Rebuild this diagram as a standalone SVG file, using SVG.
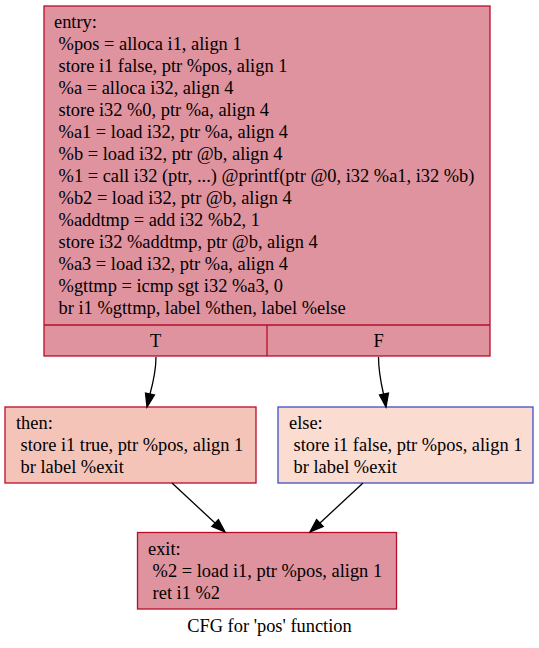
<svg xmlns="http://www.w3.org/2000/svg" width="539" height="648" viewBox="0 0 539 648">
  <style>
    text { font-family: "Liberation Serif", "Times New Roman", serif; font-size: 18.4px; fill: #000; }
    .hot { fill: #df939e; stroke: #b70d28; stroke-width: 1.3; }
    .warm { fill: #f5c4b9; stroke: #b70d28; stroke-width: 1.3; }
    .cool { fill: #fadcd1; stroke: #3d50c3; stroke-width: 1.3; }
    .sep { stroke: #b70d28; stroke-width: 1.3; fill: none; }
    .edge { stroke: #000; stroke-width: 1.3; fill: none; }
    .head { fill: #000; stroke: #000; stroke-width: 1.3; }
    .mid { text-anchor: middle; }
  </style>
  <rect width="539" height="648" fill="#fff"/>

  <g id="entry">
    <rect class="hot" x="44" y="6" width="446" height="350"/>
    <line class="sep" x1="44" y1="325" x2="490" y2="325"/>
    <line class="sep" x1="267" y1="325" x2="267" y2="356"/>
    <text x="54" y="28" xml:space="preserve">entry:</text>
    <text x="54" y="50" xml:space="preserve"> %pos = alloca i1, align 1</text>
    <text x="54" y="72" xml:space="preserve"> store i1 false, ptr %pos, align 1</text>
    <text x="54" y="94" xml:space="preserve"> %a = alloca i32, align 4</text>
    <text x="54" y="116" xml:space="preserve"> store i32 %0, ptr %a, align 4</text>
    <text x="54" y="138" xml:space="preserve"> %a1 = load i32, ptr %a, align 4</text>
    <text x="54" y="160" xml:space="preserve"> %b = load i32, ptr @b, align 4</text>
    <text x="54" y="182" xml:space="preserve"> %1 = call i32 (ptr, ...) @printf(ptr @0, i32 %a1, i32 %b)</text>
    <text x="54" y="204" xml:space="preserve"> %b2 = load i32, ptr @b, align 4</text>
    <text x="54" y="226" xml:space="preserve"> %addtmp = add i32 %b2, 1</text>
    <text x="54" y="248" xml:space="preserve"> store i32 %addtmp, ptr @b, align 4</text>
    <text x="54" y="270" xml:space="preserve"> %a3 = load i32, ptr %a, align 4</text>
    <text x="54" y="292" xml:space="preserve"> %gttmp = icmp sgt i32 %a3, 0</text>
    <text x="54" y="314" xml:space="preserve"> br i1 %gttmp, label %then, label %else</text>
    <text class="mid" x="155.5" y="347">T</text>
    <text class="mid" x="378.5" y="347">F</text>
  </g>

  <g id="then">
    <rect class="warm" x="5" y="407" width="251" height="76"/>
    <text x="16" y="429" xml:space="preserve">then:</text>
    <text x="16" y="451" xml:space="preserve"> store i1 true, ptr %pos, align 1</text>
    <text x="16" y="473" xml:space="preserve"> br label %exit</text>
  </g>

  <g id="else">
    <rect class="cool" x="278" y="407" width="255" height="76"/>
    <text x="289" y="429" xml:space="preserve">else:</text>
    <text x="289" y="451" xml:space="preserve"> store i1 false, ptr %pos, align 1</text>
    <text x="289" y="473" xml:space="preserve"> br label %exit</text>
  </g>

  <g id="exit">
    <rect class="hot" x="137.5" y="532.5" width="259" height="76.5"/>
    <text x="148" y="555" xml:space="preserve">exit:</text>
    <text x="148" y="577" xml:space="preserve"> %2 = load i1, ptr %pos, align 1</text>
    <text x="148" y="599" xml:space="preserve"> ret i1 %2</text>
  </g>

  <g id="edges">
    <path class="edge" d="M156,357 C156,370 153,383 150,394"/>
    <polygon class="head" points="154.5,395 147,407 145.5,393"/>
    <path class="edge" d="M378.5,357 C378.5,370 381,383 383.5,394"/>
    <polygon class="head" points="388.5,393 386,407 379.5,395"/>
    <path class="edge" d="M172,483 L215,523"/>
    <polygon class="head" points="211.8,526.4 225,532 218.4,519.6"/>
    <path class="edge" d="M363,483 L320,523"/>
    <polygon class="head" points="316.6,519.6 310,532 323.2,526.4"/>
  </g>

  <text class="mid" x="269.5" y="632">CFG for 'pos' function</text>
</svg>
